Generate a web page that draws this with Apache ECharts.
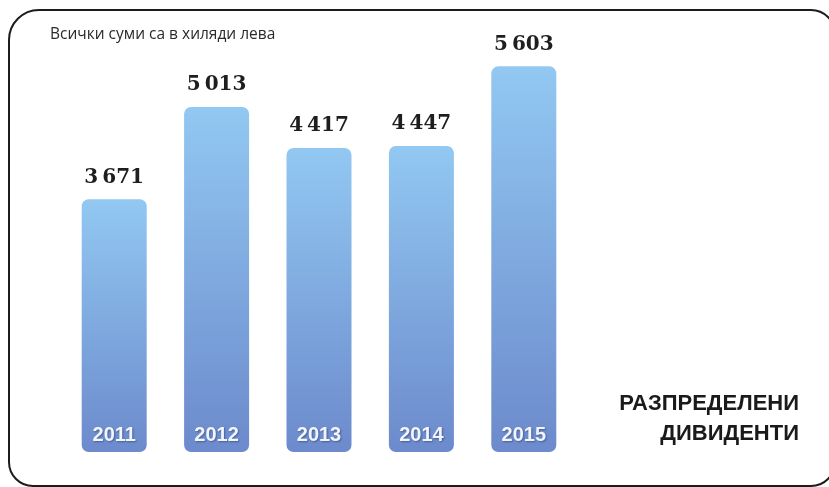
<!DOCTYPE html>
<html>
<head>
<meta charset="utf-8">
<style>
  html, body { margin: 0; padding: 0; background: #ffffff; }
  #chart { width: 829px; height: 487px; }
</style>
<script src="https://cdn.jsdelivr.net/npm/echarts@6/dist/echarts.min.js"></script>
</head>
<body>
<div id="chart"></div>
<script>
// Distributed dividends per year, thousands of leva
const years = ['2011', '2012', '2013', '2014', '2015'];
const dividends = [3671, 5013, 4417, 4447, 5603];
const unitNote = 'Всички суми са в хиляди лева';
const titleLines = ['РАЗПРЕДЕЛЕНИ', 'ДИВИДЕНТИ'];

// Thousands grouped with a thin space
function groupThousands(v) {
  return String(v).replace(/\B(?=(\d{3})+(?!\d))/g, '\u2009');
}

const chart = echarts.init(document.getElementById('chart'), null, { renderer: 'canvas' });

// Right-aligned two-line caption, one text element per line
const captionGraphics = titleLines.map((line, i) => ({
  type: 'text',
  right: 30,
  top: 393 + i * 30,
  style: {
    text: line,
    fill: '#1a1a1a',
    font: 'bold 22px "Liberation Sans", Arial, sans-serif'
  }
}));

chart.setOption({
  backgroundColor: '#ffffff',
  animation: false,
  grid: { left: 63, right: 254, top: 39, bottom: 35 },
  xAxis: {
    type: 'category',
    data: years,
    axisLine: { show: false },
    axisTick: { show: false },
    splitLine: { show: false },
    z: 10,
    axisLabel: {
      inside: true,
      margin: 7,
      verticalAlign: 'bottom',
      color: '#f2f5fb',
      fontFamily: 'Liberation Sans, Arial, sans-serif',
      fontWeight: 'bold',
      fontSize: 20,
      textShadowColor: 'rgba(40,60,110,0.6)',
      textShadowBlur: 2,
      textShadowOffsetX: 1,
      textShadowOffsetY: 1
    }
  },
  yAxis: {
    type: 'value',
    min: 0,
    max: 6000,
    show: false
  },
  series: [{
    type: 'bar',
    data: dividends,
    barWidth: 65,
    itemStyle: {
      borderRadius: 7,
      color: new echarts.graphic.LinearGradient(0, 0, 0, 1, [
        { offset: 0, color: '#92c8f2' },
        { offset: 1, color: '#6c8acc' }
      ])
    },
    label: {
      show: true,
      position: 'top',
      distance: 12,
      formatter: p => groupThousands(p.value),
      color: '#1e1e1e',
      fontFamily: 'DejaVu Serif, Liberation Serif, serif',
      fontWeight: 'bold',
      fontSize: 20
    }
  }],
  graphic: [
    {
      type: 'rect',
      shape: { x: 9, y: 10, width: 826, height: 476, r: [30, 24, 24, 24] },
      style: { fill: 'none', stroke: '#1c1c1c', lineWidth: 2 },
      silent: true
    },
    {
      type: 'text',
      left: 50,
      top: 27,
      style: {
        text: unitNote,
        fill: '#2a2a2a',
        font: '15.5px "Open Sans", "Noto Sans", sans-serif'
      }
    }
  ].concat(captionGraphics)
});
</script>
</body>
</html>
